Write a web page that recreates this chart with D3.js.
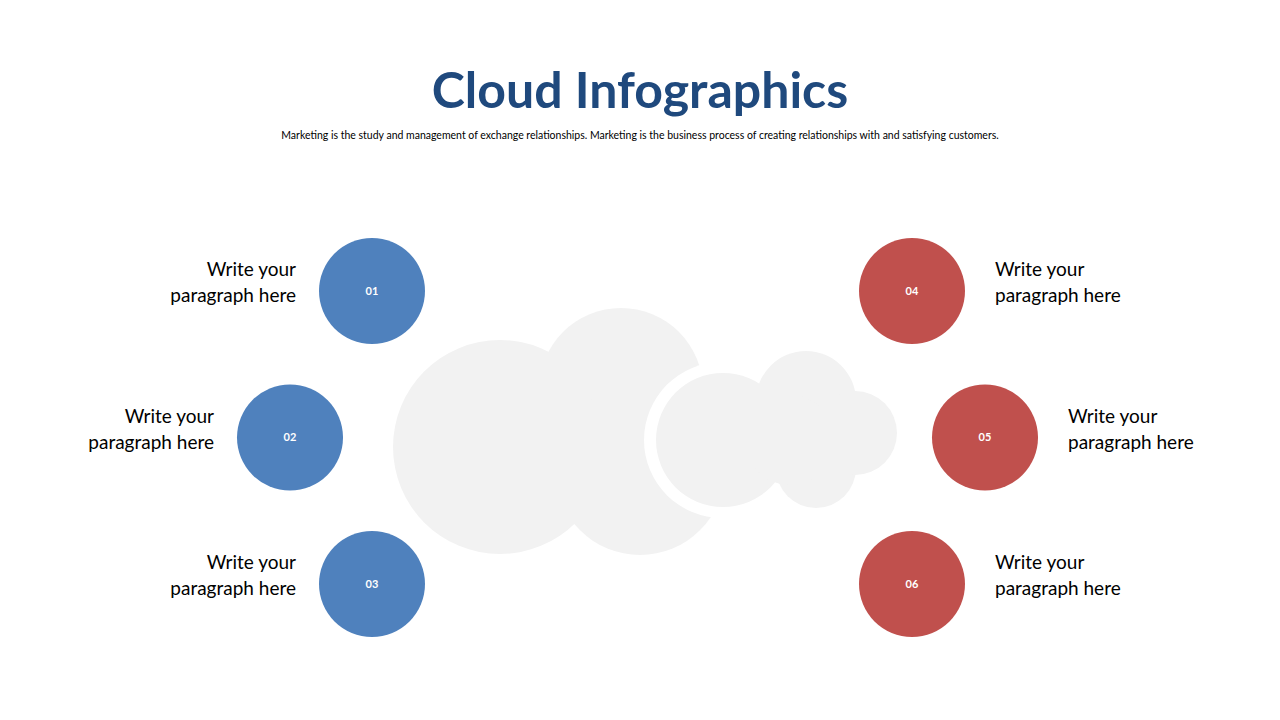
<!DOCTYPE html>
<html><head><meta charset="utf-8">
<script src="https://cdn.jsdelivr.net/npm/d3@7"></script>
<style>body{margin:0;background:#fff}svg{display:block;font-family:Lato,"Noto Sans",sans-serif}</style>
</head><body><div id="chart"></div>
<script>
var labels = ["01", "02", "03", "04", "05", "06"];
var sides = ["left", "left", "left", "right", "right", "right"];
var rows = [0, 1, 2, 0, 1, 2];
var indent = [0, 1, 0, 0, 1, 0];
var texts = ["Write your", "paragraph here"];
// cloud blobs [cx, cy, r]
var bigCloud = [[500, 447, 107], [621, 390, 82], [640, 470, 85]];
var smallCloud = [[723, 440, 67], [806, 401, 50], [816, 468, 40], [855, 433, 42], [790, 440, 45]];
var gapCircle = [722, 440, 78];

var width = 1280, height = 720;
var svg = d3.select("#chart").append("svg").attr("width", width).attr("height", height);

svg.append("text").attr("x", 640).attr("y", 108).attr("text-anchor", "middle")
    .style("font-size", "50px").style("font-weight", "bold").attr("fill", "#1f497d")
    .text("Cloud Infographics");
svg.append("text").attr("x", 640).attr("y", 139).attr("text-anchor", "middle")
    .style("font-size", "10.5px").attr("fill", "#000")
    .text("Marketing is the study and management of exchange relationships. Marketing is the  business process of creating relationships with and satisfying customers.");

var cloud = svg.append("g");
cloud.selectAll("circle.big").data(bigCloud).enter().append("circle")
    .attr("cx", function (d) { return d[0]; }).attr("cy", function (d) { return d[1]; })
    .attr("r", function (d) { return d[2]; }).attr("fill", "#f2f2f2");
cloud.append("circle").attr("cx", gapCircle[0]).attr("cy", gapCircle[1]).attr("r", gapCircle[2]).attr("fill", "#fff");
cloud.selectAll("circle.small").data(smallCloud).enter().append("circle")
    .attr("cx", function (d) { return d[0]; }).attr("cy", function (d) { return d[1]; })
    .attr("r", function (d) { return d[2]; }).attr("fill", "#f2f2f2");

var yScale = d3.scalePoint().domain([0, 1, 2]).range([291, 584]);
function cx(i) {
    var off = indent[i] ? 82 : 0;
    return sides[i] == "left" ? 372 - off : 912 + off - (indent[i] ? 9 : 0);
}

var items = svg.selectAll("g.item").data(labels).enter().append("g").attr("class", "item");
items.append("circle")
    .attr("cx", function (d, i) { return cx(i); })
    .attr("cy", function (d, i) { return yScale(rows[i]); })
    .attr("r", 53)
    .attr("fill", function (d, i) { return sides[i] == "left" ? "#4f81bd" : "#c0504d"; });
items.append("text")
    .attr("x", function (d, i) { return cx(i); })
    .attr("y", function (d, i) { return yScale(rows[i]) + 1; })
    .attr("text-anchor", "middle").attr("dominant-baseline", "middle")
    .style("font-size", "11px").style("font-weight", "bold").attr("fill", "#fff")
    .text(function (d) { return d; });
items.each(function (d, i) {
    var left = sides[i] == "left";
    var t = d3.select(this).append("text")
        .attr("text-anchor", left ? "end" : "start")
        .style("font-size", "19px").attr("fill", "#000");
    texts.forEach(function (s, k) {
        t.append("tspan")
            .attr("x", left ? cx(i) - 76 : cx(i) + 83)
            .attr("y", yScale(rows[i]) - 15 + k * 26)
            .text(s);
    });
});
</script></body></html>
